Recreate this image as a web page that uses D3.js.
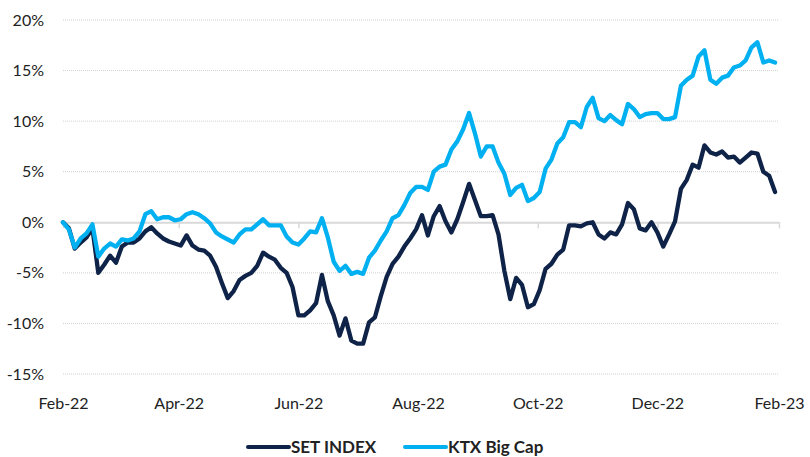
<!DOCTYPE html>
<html>
<head>
<meta charset="utf-8">
<script src="https://cdnjs.cloudflare.com/ajax/libs/d3/7.8.5/d3.min.js"></script>
<style>
  body { margin: 0; background: #fff; }
  #chart { width: 810px; height: 457px; }
  text { font-family: Lato, "Open Sans", sans-serif; fill: #222; }
</style>
</head>
<body>
<div id="chart"></div>
<script>
// Observations every 3 calendar days from 1 Feb 2022 (cumulative return, %)
const startDate = new Date(2022, 1, 1);
const endDate = new Date(2023, 1, 1);
const stepDays = 3;

const setIndex = [
  0.0, -0.6, -2.6, -2.0, -1.5, -0.6, -5.0, -4.2, -3.3, -4.0,
  -2.4, -2.0, -2.0, -1.6, -0.9, -0.5, -1.1, -1.6, -1.9, -2.1,
  -2.3, -1.3, -2.3, -2.7, -2.8, -3.3, -4.4, -6.0, -7.5, -6.8,
  -5.7, -5.3, -5.0, -4.3, -3.0, -3.4, -3.7, -4.5, -5.0, -6.4,
  -9.2, -9.2, -8.7, -8.0, -5.2, -7.8, -9.2, -11.2, -9.5, -11.7,
  -12.0, -12.0, -9.9, -9.4, -7.3, -5.4, -4.1, -3.4, -2.4, -1.6,
  -0.7, 0.7, -1.3, 0.6, 1.6, 0.1, -1.0, 0.3, 2.0, 3.8,
  2.2, 0.6, 0.6, 0.7, -1.2, -4.8, -7.6, -5.5, -6.2, -8.4,
  -8.1, -6.7, -4.6, -4.1, -3.2, -2.7, -0.3, -0.3, -0.4, -0.1,
  0.0, -1.2, -1.6, -1.0, -1.2, -0.2, 1.9, 1.3, -0.6, -0.8,
  0.0, -1.0, -2.4, -1.2, 0.1, 3.3, 4.2, 5.7, 5.4, 7.6,
  6.9, 6.7, 7.0, 6.4, 6.5, 5.9, 6.4, 6.9, 6.8, 5.0,
  4.6, 3.0
];

const ktxBigCap = [
  0.0, -0.7, -2.5, -1.6, -1.1, -0.2, -3.4, -2.6, -2.1, -2.4,
  -1.7, -1.8, -1.6, -0.9, 0.8, 1.1, 0.3, 0.5, 0.5, 0.2,
  0.3, 0.8, 1.0, 0.8, 0.4, -0.1, -1.0, -1.4, -1.7, -2.0,
  -1.2, -0.7, -0.7, -0.2, 0.3, -0.3, -0.3, -0.3, -1.4, -2.0,
  -2.2, -1.6, -0.9, -1.0, 0.4, -1.5, -3.9, -4.8, -4.3, -5.1,
  -4.9, -5.1, -3.5, -2.8, -1.8, -0.9, 0.4, 0.7, 1.7, 2.9,
  3.5, 3.5, 3.2, 5.0, 5.5, 5.7, 7.2, 8.0, 9.2, 10.8,
  8.8, 6.5, 7.5, 7.5, 5.9, 4.8, 2.7, 3.4, 3.7, 2.1,
  2.4, 3.0, 5.3, 6.2, 7.8, 8.4, 9.9, 9.9, 9.4, 11.4,
  12.3, 10.3, 10.0, 10.6, 10.1, 9.7, 11.7, 11.2, 10.4, 10.7,
  10.8, 10.8, 10.2, 10.2, 10.4, 13.5, 14.1, 14.5, 16.4, 17.0,
  14.1, 13.7, 14.3, 14.5, 15.3, 15.5, 16.0, 17.3, 17.8, 15.8,
  16.0, 15.8
];

const seriesNames = ["SET INDEX", "KTX Big Cap"];
const seriesColors = ["#0e2347", "#00b0f0"];
const yTicks = [-15, -10, -5, 0, 5, 10, 15, 20];

const width = 810, height = 457;
const margin = {top: 20, right: 31, bottom: 83, left: 63};

const svg = d3.select("#chart").append("svg")
  .attr("width", width)
  .attr("height", height);

const x = d3.scaleTime()
  .domain([startDate, endDate])
  .range([margin.left, width - margin.right]);

const y = d3.scaleLinear()
  .domain([-15, 20])
  .range([height - margin.bottom, margin.top]);

const dates = setIndex.map((d, i) => d3.timeDay.offset(startDate, i * stepDays));

// Feb, Apr, ... Feb
const xTicks = d3.timeMonth.range(startDate, d3.timeDay.offset(endDate, 1), 2);

// dotted gridlines
svg.append("g")
  .selectAll("line")
  .data(yTicks.filter(t => t !== 0))
  .join("line")
  .attr("x1", x.range()[0])
  .attr("x2", x.range()[1])
  .attr("y1", d => y(d))
  .attr("y2", d => y(d))
  .attr("stroke", "#d0d0d0")
  .attr("stroke-width", 1)
  .attr("stroke-dasharray", "1,1");

// y labels
const yAxis = d3.axisLeft(y).tickValues(yTicks).tickFormat(d => d + "%").tickSize(0).tickPadding(19);
svg.append("g")
  .attr("transform", "translate(" + margin.left + ",0)")
  .call(yAxis)
  .call(g => g.select(".domain").remove())
  .selectAll("text")
  .style("font-size", "16px");

// zero line with ticks
svg.append("g")
  .attr("class", "x-axis")
  .attr("transform", "translate(0," + y(0) + ")")
  .call(d3.axisBottom(x).tickValues(xTicks).tickSize(6).tickSizeOuter(0))
  .call(g => g.select(".domain").attr("stroke", "#d9d9d9").attr("stroke-width", 2))
  .call(g => g.selectAll(".tick line").attr("stroke", "#d9d9d9").attr("stroke-width", 1.5))
  .call(g => g.selectAll(".tick text").remove());

// month labels below the plot
svg.append("g")
  .attr("transform", "translate(0," + (height - margin.bottom) + ")")
  .call(d3.axisBottom(x)
    .tickValues(xTicks)
    .tickFormat(d3.timeFormat("%b-%y"))
    .tickSize(0)
    .tickPadding(24))
  .call(g => g.select(".domain").remove())
  .selectAll("text")
  .style("font-size", "16px");

// lines
const line = d3.line()
  .x((d, i) => x(dates[i]))
  .y(d => y(d))
  .curve(d3.curveLinear);

[setIndex, ktxBigCap].forEach((vals, k) => {
  svg.append("path")
    .datum(vals)
    .attr("d", line)
    .attr("fill", "none")
    .attr("stroke", seriesColors[k])
    .attr("stroke-width", 4.3)
    .attr("stroke-linejoin", "round")
    .attr("stroke-linecap", "round");
});

// legend
const legendX = [248, 405];
const legend = svg.append("g").attr("transform", "translate(0,447)");
seriesNames.forEach((name, k) => {
  legend.append("line")
    .attr("x1", legendX[k])
    .attr("x2", legendX[k] + 41)
    .attr("stroke", seriesColors[k])
    .attr("stroke-width", 4)
    .attr("stroke-linecap", "round");
  legend.append("text")
    .attr("x", legendX[k] + 43)
    .attr("dy", "0.35em")
    .style("font-size", "17px")
    .style("font-weight", "bold")
    .text(name);
});
</script>
</body>
</html>
